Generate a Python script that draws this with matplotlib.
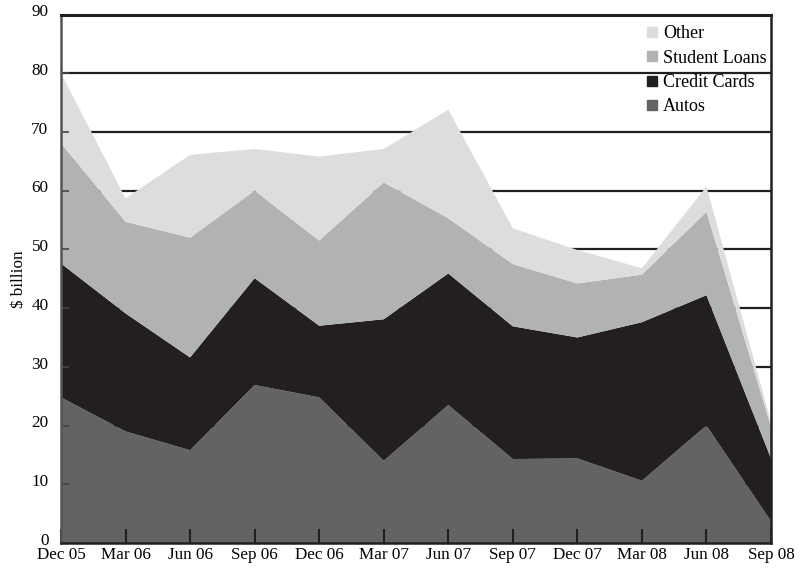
import matplotlib
matplotlib.use("Agg")
import matplotlib.pyplot as plt
import matplotlib.transforms as mtransforms
from matplotlib.lines import Line2D

dates = ["Dec 05", "Mar 06", "Jun 06", "Sep 06", "Dec 06", "Mar 07",
         "Jun 07", "Sep 07", "Dec 07", "Mar 08", "Jun 08", "Sep 08"]
autos = [24.8, 19.0, 15.8, 26.9, 24.8, 14.0, 23.5, 14.3, 14.4, 10.6, 20.0, 3.7]
credit_cards = [22.8, 20.1, 15.8, 18.2, 12.2, 24.1, 22.4, 22.6, 20.6, 27.0, 22.2, 10.7]
student_loans = [20.5, 15.6, 20.4, 14.9, 14.5, 23.3, 9.4, 10.6, 9.2, 8.1, 14.2, 5.4]
other = [11.9, 4.0, 14.1, 7.1, 14.3, 5.7, 18.5, 6.1, 5.7, 1.1, 4.3, 0.8]
series_names = ["Autos", "Credit Cards", "Student Loans", "Other"]
y_ticks = [0, 10, 20, 30, 40, 50, 60, 70, 80, 90]

colors = ["#636365", "#231f20", "#b1b2b4", "#dcdddf"]

plt.rcParams['font.family'] = ['Liberation Serif', 'DejaVu Serif']

fig = plt.figure(figsize=(8.03, 5.71), dpi=100)
ax = fig.add_axes([61/803, (571-543)/571, (771-61)/803, (543-14.5)/571])

x = list(range(len(dates)))
ax.stackplot(x, autos, credit_cards, student_loans, other,
             colors=colors, linewidth=0, zorder=1)

for t in y_ticks[1:]:
    ax.axhline(t, color="#231f20", linewidth=1.6, zorder=0.5)

ax.set_xlim(0, len(dates) - 1)
ax.set_ylim(0, 90)
ax.set_xticks(x)
ax.set_xticklabels(dates, fontsize=12.3)
ax.set_yticks(y_ticks)
ax.set_yticklabels([str(t) for t in y_ticks], fontsize=12.3)
ax.tick_params(axis='x', direction='in', length=10, width=1.5, color="#231f20", pad=3)
ax.tick_params(axis='y', direction='in', length=6, width=1.2, color="#444444", pad=9)
ax.set_ylabel("$ billion", fontsize=12.3, labelpad=3)

offset = mtransforms.ScaledTranslation(0, 3/72, fig.dpi_scale_trans)
for lbl in ax.get_yticklabels():
    lbl.set_transform(lbl.get_transform() + offset)

for s in ["left", "right", "bottom", "top"]:
    ax.spines[s].set_linewidth(1.8)
    ax.spines[s].set_color("#231f20")
ax.spines["left"].set_color("#555555")
ax.spines["top"].set_linewidth(2.2)

handles = [Line2D([], [], marker='s', linestyle='none', markersize=7,
                  markerfacecolor=c, markeredgecolor=c) for c in colors]
order = [3, 2, 1, 0]
ax.legend([handles[i] for i in order], [series_names[i] for i in order],
          loc='upper right', bbox_to_anchor=(1.004, 0.993), frameon=False,
          fontsize=13, handlelength=0.6, handletextpad=0.3,
          labelspacing=0.4, borderaxespad=0.0)

fig.savefig("out.png", dpi=100)
